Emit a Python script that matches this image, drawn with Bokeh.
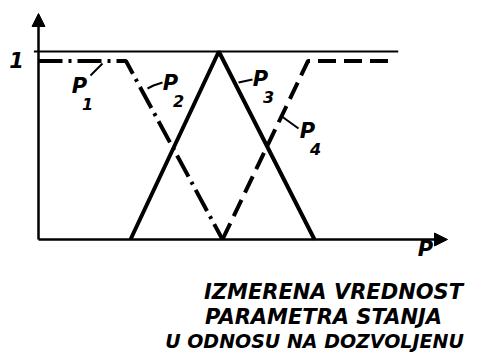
from bokeh.plotting import figure
from bokeh.models import Range1d, Arrow, NormalHead, Label
from bokeh.embed import file_html
from bokeh.resources import INLINE

# --- data (membership functions, x in units of P, y in membership degree) ---
p1_x = [0.0, 0.95, 2.0]
p1_y = [0.95, 0.95, 0.0]
tri_x = [1.0, 1.96, 3.0]
tri_y = [0.0, 1.0, 0.0]
p4_x = [2.0, 2.93, 3.83]
p4_y = [0.0, 0.95, 0.95]
one_x = [-0.05, 3.91]
one_y = [1.0, 1.0]
series_labels = ["1", "2", "3", "4"]
text_lines = ["IZMERENA VREDNOST", "PARAMETRA STANJA", "U ODNOSU NA DOZVOLJENU"]

# pixel -> data helpers (pixel coordinates of the reference picture)
X0, SX = 38.0, 92.0
Y0, SY = 239.0, 188.0
def dx(X):
    return (X - X0) / SX
def dy(Y):
    return (Y0 - Y) / SY

W, H = 481, 353
p = figure(width=W, height=H, output_backend="svg", toolbar_location=None,
           x_range=Range1d(dx(0), dx(W)), y_range=Range1d(dy(H), dy(0)),
           x_axis_type=None, y_axis_type=None, min_border=0,
           background_fill_color="white", border_fill_color="white")
p.outline_line_color = None
p.grid.visible = False

FONT = "DejaVu Sans"
INK = "black"

# "1" reference line
p.line(one_x, one_y, line_color=INK, line_width=2)

# curves
p.line(p1_x, p1_y, line_color=INK, line_width=4, line_dash="24 6 3 6")
p.line(tri_x, tri_y, line_color=INK, line_width=4)
p.line(p4_x, p4_y, line_color=INK, line_width=4, line_dash="18 8")

# axes with arrows
p.add_layout(Arrow(end=NormalHead(size=13, fill_color=INK, line_color=INK),
                   x_start=0, y_start=0, x_end=dx(447), y_end=0,
                   line_width=2.5, line_color=INK))
p.add_layout(Arrow(end=NormalHead(size=13, fill_color=INK, line_color=INK),
                   x_start=0, y_start=0, x_end=0, y_end=dy(13),
                   line_width=2.5, line_color=INK))

# y tick label "1"
p.add_layout(Label(x=dx(16), y=dy(67), text="1", text_font=FONT, text_font_size="21px",
                   text_font_style="bold italic", text_align="center", text_color=INK))
# x axis label "P"
p.add_layout(Label(x=dx(425), y=dy(260), text="P", text_font=FONT, text_font_size="21px",
                   text_font_style="bold italic", text_align="center", text_color=INK))

# series labels with leader lines
lab_pos = [(79, 97), (170, 94), (260, 90), (307, 142)]
leaders = [([90, 102], [75, 63]), ([147, 153, 162], [88, 85, 82]),
           ([238, 252], [82, 79]), ([280, 298], [115, 128])]
for s, (lx, ly), (lxs, lys) in zip(series_labels, lab_pos, leaders):
    p.add_layout(Label(x=dx(lx), y=dy(ly), text="P", text_font=FONT, text_font_size="21px",
                       text_font_style="bold italic", text_align="center", text_color=INK))
    p.add_layout(Label(x=dx(lx + 8), y=dy(ly + 12), text=s, text_font=FONT,
                       text_font_size="16px", text_font_style="bold italic",
                       text_align="center", text_color=INK))
    p.line([dx(v) for v in lxs], [dy(v) for v in lys], line_color=INK, line_width=2)

# caption
for t, (cx, by, fs) in zip(text_lines, [(333, 291, "21px"), (323, 316, "21px"),
                                        (314, 340, "19px")]):
    p.add_layout(Label(x=dx(cx), y=dy(by), text=t, text_font=FONT, text_font_size=fs,
                       text_font_style="bold italic", text_align="center",
                       text_baseline="alphabetic", text_color=INK))

open("out.html", "w").write(file_html(p, INLINE))
